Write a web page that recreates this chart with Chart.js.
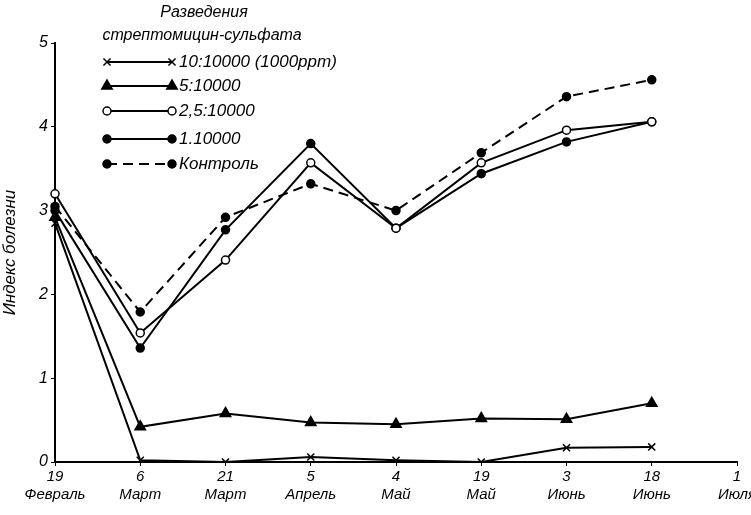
<!DOCTYPE html>
<html>
<head>
<meta charset="utf-8">
<script src="https://cdn.jsdelivr.net/npm/chart.js@4.4.1/dist/chart.umd.min.js"></script>
<style>
html,body{margin:0;padding:0;background:#fff;}
#wrap{width:751px;height:515px;position:relative;}
</style>
</head>
<body>
<div id="wrap"><canvas id="c" width="751" height="515"></canvas></div>
<script>
const categories = [["19","Февраль"],["6","Март"],["21","Март"],["5","Апрель"],["4","Май"],["19","Май"],["3","Июнь"],["18","Июнь"],["1","Июля"]];
const yTicks = [0, 1, 2, 3, 4, 5];
const seriesNames = ["10:10000 (1000ppm)", "5:10000", "2,5:10000", "1.10000", "Контроль"];
const s10 = [2.85, 0.02, 0.0, 0.06, 0.02, 0.0, 0.17, 0.18, null];
const s5 = [2.92, 0.42, 0.58, 0.47, 0.45, 0.52, 0.51, 0.70, null];
const s25 = [3.2, 1.54, 2.41, 3.57, 2.79, 3.57, 3.96, 4.06, null];
const s1 = [3.0, 1.36, 2.77, 3.8, 2.79, 3.44, 3.82, 4.06, null];
const control = [3.05, 1.79, 2.92, 3.32, 3.0, 3.69, 4.36, 4.56, null];
const legendTitle = ["Разведения", "стрептомицин-сульфата"];
const yTitle = "Индекс болезни";

const FONT = "'Liberation Sans', 'DejaVu Sans', sans-serif";

const styles = [
  {pointStyle:'crossRot', radius:5, bg:'#000', dash:[]},
  {pointStyle:'triangle', radius:6, bg:'#000', dash:[]},
  {pointStyle:'circle', radius:4, bg:'#fff', dash:[]},
  {pointStyle:'circle', radius:4, bg:'#000', dash:[]},
  {pointStyle:'circle', radius:4, bg:'#000', dash:[10,6]}
];
const values = [s10, s5, s25, s1, control];

const datasets = values.map((v, i) => ({
  label: seriesNames[i],
  data: v,
  borderColor: '#000',
  borderWidth: 2,
  borderDash: styles[i].dash,
  pointStyle: styles[i].pointStyle,
  pointRadius: styles[i].radius,
  pointBackgroundColor: styles[i].bg,
  pointBorderColor: '#000',
  pointBorderWidth: 1.5,
  tension: 0,
  fill: false,
  spanGaps: false
}));

const legendPlugin = {
  id: 'customLegend',
  afterDraw(chart) {
    const ctx = chart.ctx;
    ctx.save();
    ctx.fillStyle = '#000';
    ctx.font = "italic 16px " + FONT;
    ctx.textAlign = 'center';
    ctx.textBaseline = 'middle';
    ctx.fillText(legendTitle[0], 204, 13);
    ctx.fillText(legendTitle[1], 202, 36);
    const rows = [62, 86, 111, 139, 164];
    const x0 = 107, x1 = 172;
    chart.data.datasets.forEach((ds, i) => {
      const y = rows[i];
      ctx.save();
      ctx.strokeStyle = '#000';
      ctx.lineWidth = 2;
      ctx.setLineDash(ds.borderDash || []);
      ctx.beginPath();
      ctx.moveTo(x0, y);
      ctx.lineTo(x1, y);
      ctx.stroke();
      ctx.restore();
      [x0, x1].forEach(px => {
        ctx.save();
        ctx.fillStyle = ds.pointBackgroundColor;
        ctx.strokeStyle = '#000';
        ctx.lineWidth = 1.5;
        Chart.helpers.drawPoint(ctx, {pointStyle: ds.pointStyle, radius: ds.pointRadius, rotation: 0, borderWidth: 1.5}, px, y);
        ctx.restore();
      });
      ctx.fillStyle = '#000';
      ctx.textAlign = 'left';
      ctx.font = "italic 17px " + FONT;
      ctx.fillText(ds.label, x1 + 7, y);
    });
    ctx.restore();
  }
};

new Chart(document.getElementById('c'), {
  type: 'line',
  data: { labels: categories, datasets },
  options: {
    responsive: false,
    animation: false,
    devicePixelRatio: 1,
    layout: { padding: { top: 43, right: 0, left: 0, bottom: 0 } },
    plugins: { legend: { display: false }, tooltip: { enabled: false } },
    scales: {
      x: {
        type: 'category',
        offset: false,
        grid: { display: true, drawOnChartArea: false, drawTicks: true, tickLength: 4, color: '#000' },
        border: { display: true, color: '#000', width: 2 },
        ticks: { color: '#000', font: { family: FONT, size: 15, style: 'italic' }, maxRotation: 0, autoSkip: false, padding: 2 },
        afterFit(scale) { scale.height = 53; scale.paddingRight = 14; }
      },
      y: {
        min: 0, max: 5,
        afterBuildTicks(scale) { scale.ticks = yTicks.map(v => ({value: v})); },
        grid: { display: true, drawOnChartArea: false, drawTicks: true, tickLength: 4, color: '#000' },
        border: { display: true, color: '#000', width: 2 },
        ticks: { color: '#000', font: { family: FONT, size: 16, style: 'italic' }, padding: 3 },
        title: { display: true, text: yTitle, color: '#000', font: { family: FONT, size: 17, style: 'italic' }, padding: 0 },
        afterFit(scale) { scale.width = 55; }
      }
    }
  },
  plugins: [legendPlugin]
});
</script>
</body>
</html>
